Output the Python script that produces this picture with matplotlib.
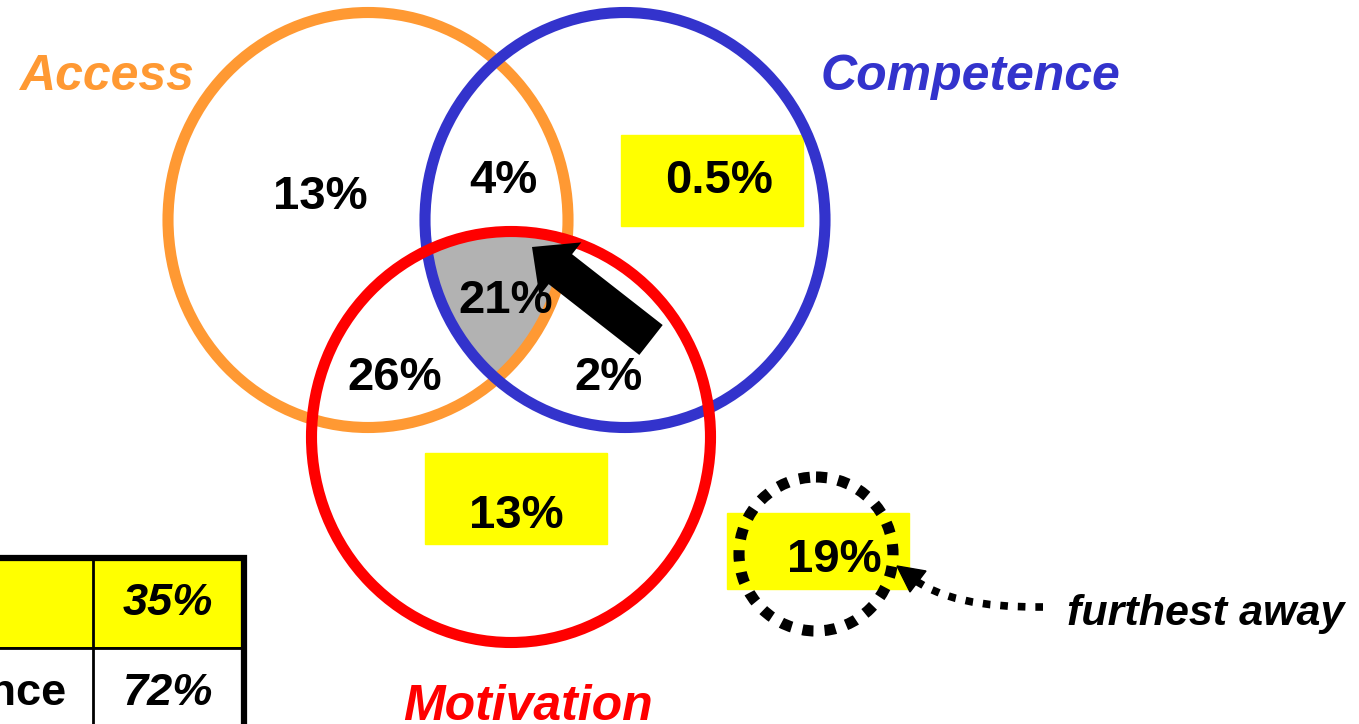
import numpy as np
import matplotlib.pyplot as plt
from matplotlib.patches import Ellipse, Rectangle, FancyArrow, Circle, Polygon, PathPatch
from matplotlib.path import Path

plt.rcParams['font.family'] = ['Liberation Sans', 'DejaVu Sans']

# sets: name, colour, centre (px), width/height (px)
set_names = ['Access', 'Competence', 'Motivation']
set_colors = ['#FF9933', '#3333CC', '#FF0000']
set_centers = [(368, 220), (625, 220), (511, 437)]
set_sizes = [(400, 415), (400, 415), (399, 411)]
name_pos = [(106, 90), (970, 90), (528, 720)]

# region percentages
region_values = ['13%', '4%', '0.5%', '21%', '26%', '2%', '13%', '19%']
region_pos = [(320, 209), (503, 193), (719, 193), (506, 313),
              (395, 390), (609, 390), (516, 528), (834, 572)]
box_rects = {2: (621, 135, 182, 91), 6: (425, 453, 182, 91), 7: (727, 513, 182, 76)}

# summary table (left side cut off)
table_labels = ['', 'Competence']
table_values = ['35%', '72%']

fig = plt.figure(figsize=(13.59, 7.24), dpi=100)
ax = fig.add_axes([0, 0, 1, 1])
ax.set_xlim(0, 1359)
ax.set_ylim(724, 0)
ax.axis('off')

# gray triple intersection
xx, yy = np.meshgrid(np.linspace(300, 720, 700), np.linspace(200, 450, 500))
f = np.full(xx.shape, -np.inf)
for (cx, cy), (w, h) in zip(set_centers, set_sizes):
    g = ((xx - cx) / (w / 2)) ** 2 + ((yy - cy) / (h / 2)) ** 2 - 1
    f = np.maximum(f, g)
ax.contourf(xx, yy, f, levels=[-10, 0], colors=['#B2B2B2'], zorder=1)

# circles: blue, orange, red order
for i in [1, 0, 2]:
    (cx, cy), (w, h) = set_centers[i], set_sizes[i]
    ax.add_patch(Ellipse((cx, cy), w, h, fill=False, ec=set_colors[i], lw=8, zorder=2 + i * 0.1))

for name, c, (x, y) in zip(set_names, set_colors, name_pos):
    ax.text(x, y, name, color=c, fontsize=36, fontweight='bold', style='italic',
            ha='center', va='baseline', zorder=5)

# yellow boxes
for i, (x, y, w, h) in box_rects.items():
    ax.add_patch(Rectangle((x, y), w, h, color='#FFFF00', zorder=1.5))

for v, (x, y) in zip(region_values, region_pos):
    ax.text(x, y, v, fontsize=34, fontweight='bold', ha='center', va='baseline', zorder=6)

# big arrow pointing to the centre
ax.add_patch(FancyArrow(651, 340, 532 - 651, 247 - 340, width=38, head_width=68, head_length=36,
                        length_includes_head=True, color='black', lw=0, zorder=4))

# dotted circle around 19%
ax.add_patch(Circle((816, 554), 77, fill=False, ec='black', lw=8, ls=(0, (1.0, 1.0)), zorder=3))

# dotted curved pointer
verts = [(1043, 607), (950, 608), (912, 578)]
ax.add_patch(PathPatch(Path(verts, [Path.MOVETO, Path.CURVE3, Path.CURVE3]), fill=False,
                       ec='black', lw=5.5, ls=(0, (1.0, 1.3)), zorder=3))
ax.add_patch(Polygon([(897, 566), (926, 571), (910, 592)], color='black', zorder=3))
ax.text(1206, 625, 'furthest away', fontsize=31, fontweight='bold', style='italic',
        ha='center', va='baseline')

# table
row_tops = [558, 648]
row_h = 90
row_fill = ['#FFFF00', 'white']
for i, (lab, val) in enumerate(zip(table_labels, table_values)):
    y0 = row_tops[i]
    ax.add_patch(Rectangle((-20, y0), 264, row_h, fc=row_fill[i], ec='black', lw=2, zorder=1))
    ax.text(168, y0 + 57, val, fontsize=32.5, fontweight='bold',
            style='italic', ha='center', va='baseline', zorder=6)
    ax.text(66, y0 + 57, lab, fontsize=32.5, fontweight='bold', ha='right', va='baseline', zorder=6)
ax.plot([93, 93], [558, 740], color='black', lw=2, zorder=2)
ax.plot([-20, 244, 244], [558, 558, 740], color='black', lw=4.5, zorder=2, solid_joinstyle='miter')

fig.savefig('out.png', dpi=100)
